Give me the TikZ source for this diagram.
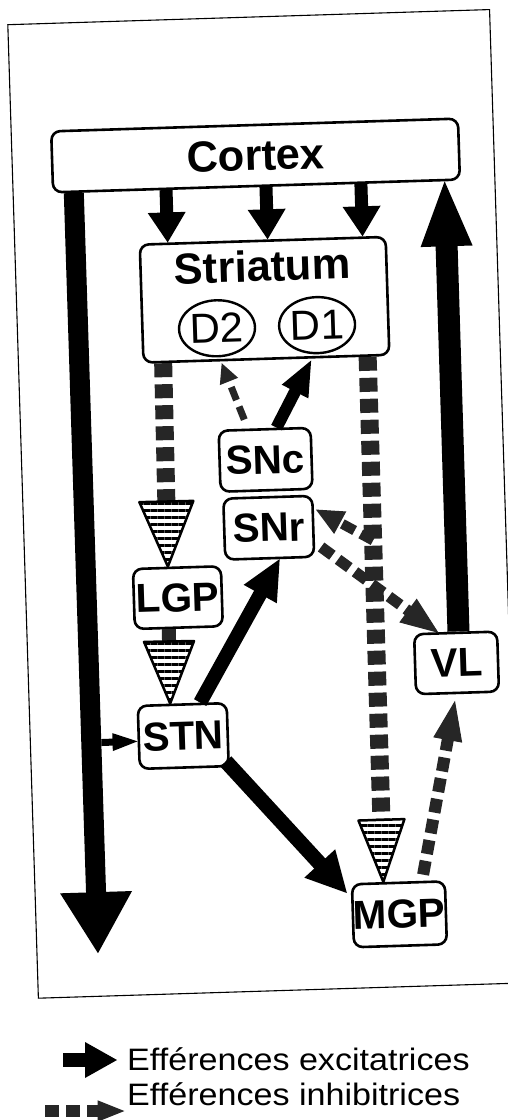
\documentclass[tikz,border=0pt]{standalone}
\usepackage{fontspec}
\setmainfont{Liberation Sans}
\newfontfamily\labfont{Liberation Sans}
\newfontfamily\legfont{Liberation Sans}[FakeStretch=1.1]
\usetikzlibrary{arrows.meta,calc,patterns.meta,shapes.geometric}

\tikzset{
  box/.style={draw, line width=2.6pt, rounded corners=9pt, inner sep=0pt,
    font=\labfont\bfseries\fontsize{40.5pt}{40.5pt}\selectfont},
  bigbox/.style={box, font=\labfont\bfseries\fontsize{43.5pt}{43.5pt}\selectfont},
  lbl/.style={inner sep=0pt, font=\labfont\bfseries\fontsize{43.5pt}{43.5pt}\selectfont},
  rec/.style={draw, ellipse, line width=2.4pt, inner sep=0pt,
    font=\labfont\fontsize{42pt}{42pt}\selectfont},
  inhline/.style={draw=black!85, dash pattern=on 14pt off 7pt},
  inhhead/.style={draw=black, line width=2.5pt, line join=round,
    pattern={Lines[angle=0,distance=7pt,line width=3pt]}, pattern color=black},
  solidhead/.style={fill=black!85, draw=black!85, line width=1pt},
  legtext/.style={inner sep=0pt, font=\legfont\fontsize{31pt}{31pt}\selectfont},
  frame/.style={draw, line width=1.1pt}
}

% excitatory arrow: start, end, shaft width, head length, half head width
\newcommand\exc[5]{%
  \coordinate (eb) at ($(#2)!#4!(#1)$);
  \draw[line width=#3] (#1) -- ($(eb)!1pt!(#2)$);
  \fill (#2) -- ($(eb)!#5!90:(#2)$) -- ($(eb)!#5!-90:(#2)$) -- cycle;
}
% inhibitory arrow: [head style] start, end, line width, head length, half head width
\newcommand\inh[6][inhhead]{%
  \coordinate (ib) at ($(#3)!#5!(#2)$);
  \draw[inhline, line width=#4] (#2) -- (ib);
  \path[#1] (#3) -- ($(ib)!#6!90:(#3)$) -- ($(ib)!#6!-90:(#3)$) -- cycle;
}

\begin{document}
\begin{tikzpicture}[x=1pt,y=-1pt]
\useasboundingbox (0,0) rectangle (508,1120);
\fill[white] (0,0) rectangle (508,1120);

\begin{scope}[rotate around={1.8:(260,505)}, transform shape]
  \draw[frame] (23,17) rectangle (505,991);

  \node[bigbox, minimum width=407pt, minimum height=61pt] (cortex) at (266.5,155.5) {Cortex};
  \node[box, minimum width=246pt, minimum height=118pt] (striatum) at (271,300) {};
  \node[lbl] (striatumlabel) at (270,266) {Striatum};
  \node[rec, minimum width=74pt, minimum height=56pt] (d2) at (222.6,327) {D2};
  \node[rec, minimum width=70pt, minimum height=56pt] (d1) at (322.7,327) {D1};

  \node[box, minimum width=92pt, minimum height=61pt] (snc) at (267,460) {SNc};
  \node[box, minimum width=89pt, minimum height=61pt] (snr) at (268,528) {SNr};
  \node[box, minimum width=88pt, minimum height=60pt] (lgp) at (175,595) {LGP};
  \node[box, minimum width=89pt, minimum height=63pt] (stn) at (176,733.5) {STN};
  \node[box, minimum width=83pt, minimum height=60pt] (vl) at (451.5,669) {VL};
  \node[box, minimum width=93pt, minimum height=63pt] (mgp) at (386.5,918.5) {MGP};

  % cortex -> striatum
  \coordinate (c1s) at ($(cortex.south)+(-90.5,0)$);
  \coordinate (c1e) at ($(striatum.north)+(-95,0)$);
  \coordinate (c2s) at ($(cortex.south)+(9.5,0)$);
  \coordinate (c2e) at ($(striatum.north)+(5,0)$);
  \coordinate (c3s) at ($(cortex.south)+(104.5,0)$);
  \coordinate (c3e) at ($(striatum.north)+(100,0)$);
  \exc{c1s}{c1e}{13pt}{30pt}{19pt}
  \exc{c2s}{c2e}{13pt}{30pt}{19pt}
  \exc{c3s}{c3e}{13pt}{30pt}{19pt}

  % cortex descending
  \coordinate (dls) at ($(cortex.south west)+(22,0)$);
  \coordinate (dle) at (84,948);
  \exc{dls}{dle}{20pt}{61pt}{36pt}
  % to STN
  \coordinate (tss) at (94,737.5);
  \coordinate (tse) at ($(stn.west)+(0,4)$);
  \exc{tss}{tse}{7pt}{25pt}{9pt}

  % VL -> cortex
  \coordinate (vls) at ($(vl.north)+(3,0)$);
  \coordinate (vle) at ($(cortex.south east)+(-16.5,0)$);
  \exc{vls}{vle}{22pt}{65pt}{26pt}

  % SNc -> D1
  \coordinate (sds) at ($(snc.north)+(12,0)$);
  \coordinate (sde) at ($(d1.south)+(-7,6)$);
  \exc{sds}{sde}{12pt}{35pt}{15pt}

  % STN -> SNr
  \coordinate (srs) at ($(stn.north)+(18,0)$);
  \coordinate (sre) at ($(snr.south)+(10,0)$);
  \exc{srs}{sre}{14pt}{40pt}{19pt}

  % STN -> MGP
  \coordinate (sms) at ($(stn.south east)+(-4,-6)$);
  \coordinate (sme) at ($(mgp.north west)+(-4,10)$);
  \exc{sms}{sme}{15pt}{40pt}{21pt}

  % inhibitory
  \coordinate (i1s) at ($(striatum.south west)+(21,0)$);
  \coordinate (i1e) at ($(lgp.north)+(-9,0)$);
  \inh{i1s}{i1e}{18pt}{65pt}{27pt}

  \coordinate (i2s) at ($(lgp.south)+(-10,0)$);
  \coordinate (i2e) at ($(stn.north)+(-12,0)$);
  \inh{i2s}{i2e}{14pt}{62pt}{25pt}

  \coordinate (i3s) at ($(striatum.south east)+(-23,0)$);
  \coordinate (i3e) at ($(mgp.north)+(-15,0)$);
  \inh{i3s}{i3e}{18pt}{62pt}{23pt}

  \coordinate (br) at ($(i3s)!0.35!(i3e)$);
  \coordinate (i4e) at ($(snr.east)+(3,-16)$);
  \inh[solidhead]{br}{i4e}{10pt}{26pt}{12pt}

  \coordinate (i5s) at ($(snr.east)+(6,21)$);
  \coordinate (i5e) at ($(vl.north)+(-18,0)$);
  \inh[solidhead]{i5s}{i5e}{11pt}{36pt}{14pt}

  \coordinate (i6s) at ($(mgp.north)+(25,-6)$);
  \coordinate (i6e) at ($(vl.south)+(-3,8)$);
  \inh[solidhead]{i6s}{i6e}{12pt}{38pt}{14pt}

  \coordinate (i7s) at ($(snc.north)+(-20,-9)$);
  \coordinate (i7e) at ($(d2.south)+(4,7)$);
  \inh[solidhead]{i7s}{i7e}{7pt}{18pt}{9pt}
\end{scope}

% legend
\coordinate (lx1) at (63,1060);
\coordinate (lx2) at (117,1060);
\exc{lx1}{lx2}{14pt}{32pt}{18pt}
\node[legtext, anchor=base west] (legexc) at (127,1070) {Efférences excitatrices};
\coordinate (li1) at (45,1111);
\coordinate (li2) at (123,1111);
\inh[solidhead]{li1}{li2}{12pt}{25pt}{10pt}
\node[legtext, anchor=base west] (leginh) at (127,1105) {Efférences inhibitrices};
\end{tikzpicture}
\end{document}
